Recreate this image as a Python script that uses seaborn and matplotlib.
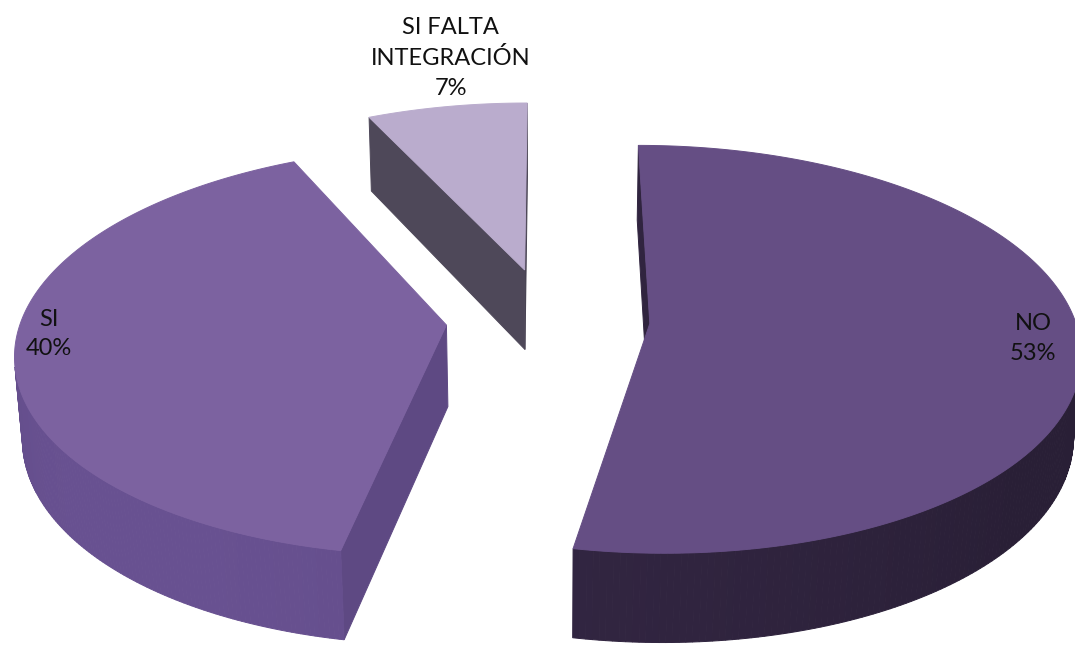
import numpy as np
import matplotlib
matplotlib.use("Agg")
import matplotlib.pyplot as plt
from matplotlib.patches import Polygon
from matplotlib.colors import to_rgb
import seaborn as sns

# ---- data -------------------------------------------------------------
categories = ["SI FALTA\nINTEGRACIÓN", "SI", "NO"]
shares = [7, 40, 53]
top_colors = ["#BAACCD", "#7C62A0", "#654E84"]
side_colors = ["#4C4656", "#634D8A", "#30243F"]

sns.set_theme(style="white")
plt.rcParams["font.family"] = ["Lato", "DejaVu Sans"]

W, H = 1075, 645
fig = plt.figure(figsize=(W / 100, H / 100), dpi=100)
ax = fig.add_axes([0, 0, 1, 1])
ax.set_xlim(0, W)
ax.set_ylim(H, 0)
ax.axis("off")

# ---- 3D pie geometry (unit radius, perspective camera) ----------------
elev = np.deg2rad(28)
dist = 7.0
focal = 425 * dist
cx, cy = 548, 319
thick = 0.22
explode = [0.26, 0.24, 0.24]
start_angle = 90.0
label_radius = [1.0, 0.9, 0.9]
label_shift = [(4, -8), (-10, -14), (-4, -2)]   # pixel nudges from the anchor

cam = np.array([0.0, -dist * np.cos(elev), dist * np.sin(elev)])
light = np.array([-0.6, -0.7, 0.5])
light = light / np.linalg.norm(light)


def project(P):
    P = np.atleast_2d(P)
    X, Y, Z = P[:, 0], P[:, 1], P[:, 2]
    depth = dist + Y * np.cos(elev) - Z * np.sin(elev)
    up = Y * np.sin(elev) + Z * np.cos(elev)
    return np.column_stack([cx + focal * X / depth, cy - focal * up / depth])


def shade(color, normal, base=0.86, gain=0.22):
    f = base + gain * max(0.0, float(np.dot(normal, light)))
    return tuple(np.clip(np.array(to_rgb(color)) * f, 0, 1))


def visible(normal, point):
    return np.dot(normal, cam - point) > 0


def face(points3d, color, z):
    pts = project(np.array(points3d))
    ax.add_patch(Polygon(pts, closed=True, facecolor=color, edgecolor=color,
                         linewidth=0.7, zorder=z))


total = float(sum(shares))
angles = []
a = start_angle
for s in shares:
    span = 360.0 * s / total
    angles.append((a, a + span))
    a += span

# draw back slices first
order = sorted(range(len(shares)),
               key=lambda i: -np.sin(np.deg2rad(sum(angles[i]) / 2)))

for rank, i in enumerate(order):
    a1, a2 = angles[i]
    mid = np.deg2rad((a1 + a2) / 2)
    off = explode[i] * np.array([np.cos(mid), np.sin(mid), 0.0])
    down = np.array([0.0, 0.0, -thick])
    z0 = 10 * rank
    ts = np.deg2rad(np.linspace(a1, a2, 240))
    rim = np.column_stack([np.cos(ts), np.sin(ts), np.zeros_like(ts)]) + off

    # radial walls
    for ang, sign in ((a1, -1), (a2, 1)):
        t = np.deg2rad(ang)
        n = np.array([np.cos(t + sign * np.pi / 2), np.sin(t + sign * np.pi / 2), 0.0])
        edge = off + np.array([np.cos(t), np.sin(t), 0.0])
        centre = (off + edge) / 2 + down / 2
        if visible(n, centre):
            face([off, edge, edge + down, off + down],
                 shade(side_colors[i], n, base=0.95, gain=0.1), z0 + 1)

    # outer curved wall, strip by strip
    for k in range(len(ts) - 1):
        tm = (ts[k] + ts[k + 1]) / 2
        n = np.array([np.cos(tm), np.sin(tm), 0.0])
        p = (rim[k] + rim[k + 1]) / 2 + down / 2
        if visible(n, p):
            face([rim[k], rim[k + 1], rim[k + 1] + down, rim[k] + down],
                 shade(side_colors[i], n), z0 + 2)

    # top face
    face(np.vstack([off, rim]), top_colors[i], z0 + 3)

    # data label
    lp = off + label_radius[i] * np.array([np.cos(mid), np.sin(mid), 0.0])
    lx, ly = project(lp)[0]
    lx, ly = lx + label_shift[i][0], ly + label_shift[i][1]
    text = f"{categories[i]}\n{shares[i]}%"
    ax.text(lx, ly, text, ha="center", va="bottom" if i == 0 else "center",
            fontsize=17, color="#111111", linespacing=1.5, zorder=100)

fig.savefig("out.png", dpi=100, facecolor="white")
